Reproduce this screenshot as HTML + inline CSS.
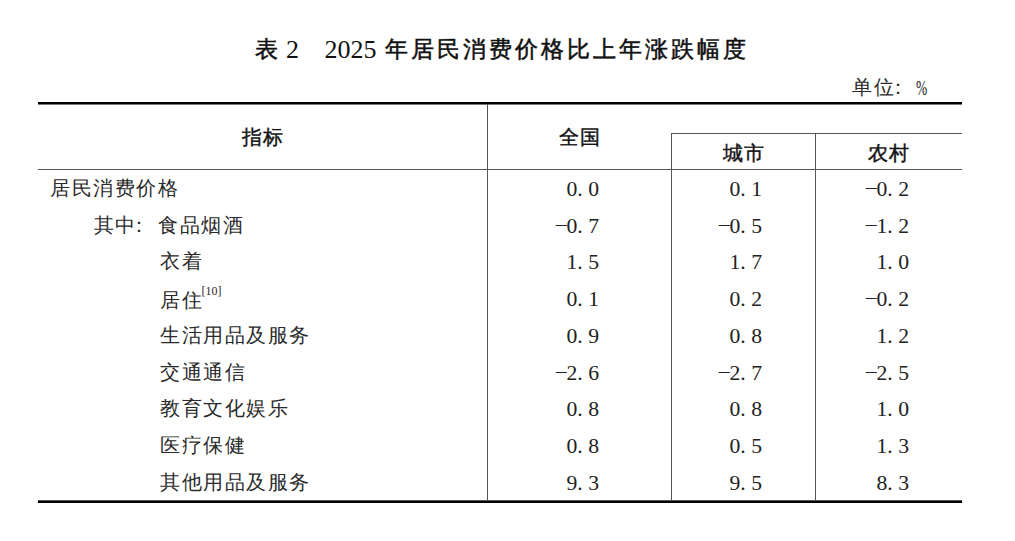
<!DOCTYPE html>
<html><head><meta charset="utf-8">
<style>
html,body{margin:0;padding:0;background:#fff}
body{width:1015px;height:541px;position:relative;overflow:hidden;font-family:"Liberation Serif",serif;color:#111}
.a{position:absolute;white-space:nowrap}
.ln{position:absolute;background:#1a1a1a}
.tl{font-size:23px;line-height:30px;letter-spacing:3px;-webkit-text-stroke:0.5px #111}
.tn{font-size:26px;line-height:30px}
.hd{font-size:20px;line-height:24px;letter-spacing:1px;-webkit-text-stroke:0.4px #111}
.bd{font-size:19.5px;line-height:24px;letter-spacing:1.5px;color:#2a2a2a}
.n{font-size:21.7px;line-height:24px;color:#222}
.d{letter-spacing:5.4px}
.m{position:relative;top:-2px}
.sup{font-size:12px;line-height:10px;letter-spacing:0;vertical-align:11px;margin-left:-1.5px;position:relative;top:-1.5px}
.c{position:relative;left:-8px}
</style></head><body>
<div class="a tl" style="left:255px;top:34.5px">表</div>
<div class="a tn" style="left:286px;top:34.5px">2</div>
<div class="a tn" style="left:324.5px;top:34.5px">2025</div>
<div class="a tl" style="left:385px;top:34.5px">年居民消费价格比上年涨跌幅度</div>
<div class="a bd" style="left:852px;top:76px">单位<span class="c" style="left:-7px">：</span></div>
<div class="a n" style="left:916px;top:76px;font-size:21px;transform:scaleX(0.64);transform-origin:0 0">%</div>
<div class="ln" style="left:38px;top:102px;width:924px;height:2px;background:#000"></div><div class="ln" style="left:38px;top:104px;width:924px;height:1px;background:#777"></div>
<div class="ln" style="left:38px;top:169px;width:924px;height:1px;background:#555"></div>
<div class="ln" style="left:671px;top:133px;width:291px;height:1px;background:#555"></div>
<div class="ln" style="left:487px;top:104px;width:1px;height:397px;background:#555"></div>
<div class="ln" style="left:671px;top:133px;width:1px;height:368px;background:#555"></div>
<div class="ln" style="left:815px;top:133px;width:1px;height:368px;background:#555"></div>
<div class="ln" style="left:38px;top:500px;width:924px;height:1px;background:#555"></div><div class="ln" style="left:38px;top:501px;width:924px;height:2px;background:#000"></div>
<div class="a hd" style="left:242px;top:125px">指标</div>
<div class="a hd" style="left:559px;top:125px">全国</div>
<div class="a hd" style="left:723px;top:141px">城市</div>
<div class="a hd" style="left:868px;top:141px">农村</div>
<div class="a bd" style="left:50px;top:177px">居民消费价格</div>
<div class="a n" style="right:416px;top:177px">0<span class="d">.</span>0</div>
<div class="a n" style="right:253px;top:177px">0<span class="d">.</span>1</div>
<div class="a n" style="right:106px;top:177px"><span class="m">&ndash;</span>0<span class="d">.</span>2</div>
<div class="a bd" style="left:93.5px;top:214px">其中<span class="c">：</span>食品烟酒</div>
<div class="a n" style="right:416px;top:214px"><span class="m">&ndash;</span>0<span class="d">.</span>7</div>
<div class="a n" style="right:253px;top:214px"><span class="m">&ndash;</span>0<span class="d">.</span>5</div>
<div class="a n" style="right:106px;top:214px"><span class="m">&ndash;</span>1<span class="d">.</span>2</div>
<div class="a bd" style="left:160px;top:250px">衣着</div>
<div class="a n" style="right:416px;top:250px">1<span class="d">.</span>5</div>
<div class="a n" style="right:253px;top:250px">1<span class="d">.</span>7</div>
<div class="a n" style="right:106px;top:250px">1<span class="d">.</span>0</div>
<div class="a bd" style="left:160px;top:287px">居住<span class="sup">[10]</span></div>
<div class="a n" style="right:416px;top:287px">0<span class="d">.</span>1</div>
<div class="a n" style="right:253px;top:287px">0<span class="d">.</span>2</div>
<div class="a n" style="right:106px;top:287px"><span class="m">&ndash;</span>0<span class="d">.</span>2</div>
<div class="a bd" style="left:160px;top:324px">生活用品及服务</div>
<div class="a n" style="right:416px;top:324px">0<span class="d">.</span>9</div>
<div class="a n" style="right:253px;top:324px">0<span class="d">.</span>8</div>
<div class="a n" style="right:106px;top:324px">1<span class="d">.</span>2</div>
<div class="a bd" style="left:160px;top:361px">交通通信</div>
<div class="a n" style="right:416px;top:361px"><span class="m">&ndash;</span>2<span class="d">.</span>6</div>
<div class="a n" style="right:253px;top:361px"><span class="m">&ndash;</span>2<span class="d">.</span>7</div>
<div class="a n" style="right:106px;top:361px"><span class="m">&ndash;</span>2<span class="d">.</span>5</div>
<div class="a bd" style="left:160px;top:397px">教育文化娱乐</div>
<div class="a n" style="right:416px;top:397px">0<span class="d">.</span>8</div>
<div class="a n" style="right:253px;top:397px">0<span class="d">.</span>8</div>
<div class="a n" style="right:106px;top:397px">1<span class="d">.</span>0</div>
<div class="a bd" style="left:160px;top:434px">医疗保健</div>
<div class="a n" style="right:416px;top:434px">0<span class="d">.</span>8</div>
<div class="a n" style="right:253px;top:434px">0<span class="d">.</span>5</div>
<div class="a n" style="right:106px;top:434px">1<span class="d">.</span>3</div>
<div class="a bd" style="left:160px;top:471px">其他用品及服务</div>
<div class="a n" style="right:416px;top:471px">9<span class="d">.</span>3</div>
<div class="a n" style="right:253px;top:471px">9<span class="d">.</span>5</div>
<div class="a n" style="right:106px;top:471px">8<span class="d">.</span>3</div>
</body></html>
